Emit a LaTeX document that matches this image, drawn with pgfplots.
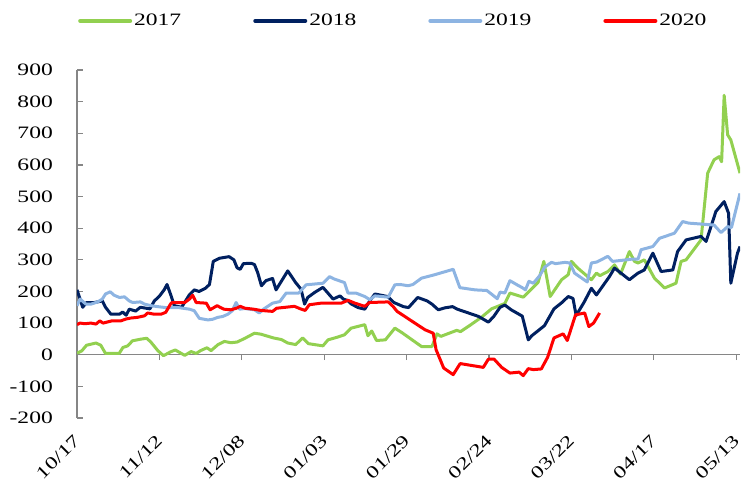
\documentclass[border=0pt]{standalone}
\usepackage{fontspec}
\setmainfont{Liberation Serif}[FakeStretch=1.35]
\usepackage{pgfplots}
\usepackage{pgfplotstable}
\pgfplotsset{compat=1.18}
\definecolor{c17}{RGB}{146,208,80}
\definecolor{c18}{RGB}{0,32,96}
\definecolor{c19}{RGB}{141,180,226}
\definecolor{c20}{RGB}{255,0,0}
\definecolor{axgray}{RGB}{134,134,134}

\pgfplotstableread{
x y
0 5
1.5 12
3 30
6 37
7.5 30
9 4
13.3 4
14.5 23
16 28
17.5 44
20 49
22 52
23.3 40
25.5 13
27.3 -3
29.5 9
31 15
34 -2
36 10
37.6 4
39 13
41 22
42.3 13
44.5 32
46.5 42
48.5 38
50.5 40
53 52
56 68
58 65
62 53
64.5 48
66.5 37
69 32
71.2 53
73 35
77.6 28
79.2 47
82 55
84.4 63
86.5 84
90.8 95
91.8 60
93 75
94.5 45
97.3 47
100.3 84
102.5 70
108.7 26
112 26
113.6 66
114.8 58
119.8 77
121 73
124 93
127.7 119
130.8 145
133.5 156
135 162
136.6 195
140.8 182
142.9 203
145.5 229
147.3 295
149.3 184
152.9 237
155 253
156 295
158 274
162.3 237
163.9 258
165 250
167.5 263
169.6 284
171.5 255
174.3 326
175.9 295
177 290
179 300
182.2 242
185.4 211
189 226
190.6 295
192.2 300
196.9 363
199 574
201 616
202.6 626
203.4 610
204.2 820
205.3 695
206.3 679
209.2 574
}\tabA

\pgfplotstableread{
x y
0 205
1 175
1.8 150
3 165
5.5 165
8 170
9 150
10.7 128
13.4 128
14.4 135
15.5 125
16.5 144
18.5 138
20 150
23 145
24.4 170
26 185
27.5 205
28.4 222
29.7 186
30.7 155
33 150
35.5 190
37 205
38.5 200
40.5 210
41.8 222
43 295
45 305
48 310
49.5 300
50.5 275
51.5 270
52.5 288
55 289
56 285
57 260
58.2 218
59.6 234
61.7 241
62.8 205
66.5 265
69 228
70.7 207
71.8 160
72.8 181
75 197
77.6 213
80.8 176
83 186
84 176
85.5 171
86.6 160
88.7 149
90.8 144
92.4 171
94 192
96 188
98 184
100 165
103 152
104.6 149
107.5 181
110.5 170
112 160
114 142
116 148
118.5 152
120 144
123.5 132
126.7 121
129.8 103
131.5 121
133.5 150
135 157
137 142
140.5 122
142.4 47
143.5 60
147.5 92
150.5 145
153 165
155 184
156.5 178
157.5 124
160 166
162.3 210
163.9 189
168 247
169.6 274
174.3 237
177 258
179 268
181.7 321
184.3 263
188 268
189.5 326
192.2 363
196.9 374
198.5 358
201.6 453
204.2 484
205.6 447
206.3 226
208.4 321
209.2 342
}\tabB

\pgfplotstableread{
x y
0 155
1 176
2.8 160
4.4 160
6.5 167
8 176
9 192
10.5 199
11.7 188
13.4 181
15 183
16.5 170
17.6 165
20 167
21.3 160
23.4 155
25.5 152
28 149
32 149
35.5 144
37 139
38.6 115
41.3 110
42.8 112
44.4 118
46 121
47.6 128
49 139
50.2 165
51.3 144
53 146
56 142
57.5 132
59 145
61.7 163
64 168
66 195
70 195
72.3 221
77.6 226
79.7 247
81 240
84.4 228
85.5 195
88 195
90.8 184
92.4 174
94 186
98.2 182
100.3 221
102 222
104.5 218
106 222
108.7 242
112.9 253
118.7 270
120.8 212
125.6 205
129.3 203
131 190
132.6 177
133.5 198
135 195
136.6 234
139.2 219
140.5 212
141.5 205
142.6 232
144 226
146 250
147.6 277
149.7 292
151 288
154 292
155.5 290
157 258
161 230
162.3 290
164 293
167.5 311
169 295
175 302
177 302
178 332
181.7 342
183.8 368
188.5 384
191.1 421
193 416
201 410
203.2 386
205.3 405
206.5 402
209.2 510
}\tabC

\pgfplotstableread{
x y
0 95
1 100
2.5 98
4.4 100
6 97
7.2 107
8.2 100
11 107
13.8 107
15.5 113
17 116
19 118
21.3 123
22.3 132
24.4 128
26.5 128
28 134
29.5 160
30 165
34 165
35.5 176
36.5 188
37.6 165
40.8 163
42 142
44.2 155
46.3 144
48.5 142
50.3 147
51.5 153
53 147
55.7 144
58 140
61.7 137
63 147
68.6 153
70.5 145
72 140
73.3 158
77 163
83.4 163
85.5 172
87.7 163
90.8 153
92.3 165
98.2 167
99.7 153
101 137
106.6 100
109.8 79
112.4 68
113.3 16
115.7 -42
118.7 -63
120.9 -28
128.2 -40
129.8 -14
131.6 -14
134 -40
136.6 -58
139.5 -55
140.8 -66
142.4 -44
144 -47
146.5 -45
148.5 -8
150.5 53
153.4 66
154.7 45
157.3 126
160.2 132
161.5 89
163 100
164.9 132
}\tabD

\begin{document}
\begin{tikzpicture}
\path[use as bounding box] (0,0) rectangle (741bp,486bp);
% zero line with its ticks
\begin{axis}[at={(77bp,68bp)}, anchor=south west, scale only axis,
  width=663bp, height=348bp, xmin=0, xmax=209.2, ymin=-200, ymax=900,
  axis x line*=middle, axis y line=none,
  xtick={0,26,...,208}, xticklabels={}, ytick=\empty,
  tick align=outside, major tick length=5.5bp,
  x axis line style={axgray, line width=1.3bp},
  xtick style={axgray, line width=1.3bp}]
\addplot[draw=none] coordinates {(0,0)};
\end{axis}
\begin{axis}[at={(77bp,68bp)}, anchor=south west, scale only axis,
  width=663bp, height=348bp, xmin=0, xmax=209.2, ymin=-200, ymax=900,
  axis y line*=left, axis x line*=bottom, x axis line style={draw=none},
  xtick={0,26,...,208},
  xticklabels={10/17,11/12,12/08,01/03,01/29,02/24,03/22,04/17,05/13},
  ytick={-200,-100,...,900},
  y axis line style={axgray, line width=1.3bp},
  ytick style={axgray, line width=1.3bp}, xtick style={draw=none},
  tick align=inside, major tick length=5.5bp,
  /pgf/number format/assume math mode=true,
  yticklabel style={font=\fontsize{17.5}{18}\selectfont, anchor=east, inner sep=0pt, xshift=-24bp},
  xticklabel style={font=\fontsize{17.5}{18}\selectfont, rotate=45, anchor=east, inner sep=0pt},
  xticklabel shift=20bp,
  legend columns=4,
  legend style={at={(0.0015,1.141)}, anchor=west, draw=none, fill=none, inner sep=0pt,
    font=\fontsize{17.5}{18}\selectfont, nodes={inner sep=2bp},
    /tikz/every even column/.append style={column sep=70bp}},
  legend image code/.code={\draw[#1, line width=4bp, line cap=round] (0bp,0bp) -- (50bp,0bp);},
  every axis plot/.append style={line width=3bp, line join=round, no markers},
]
\addplot[c17] table[x=x,y=y] {\tabA};
\addlegendentry{2017}
\addplot[c18] table[x=x,y=y] {\tabB};
\addlegendentry{2018}
\addplot[c19] table[x=x,y=y] {\tabC};
\addlegendentry{2019}
\addplot[c20] table[x=x,y=y] {\tabD};
\addlegendentry{2020}
\end{axis}
\end{tikzpicture}
\end{document}
